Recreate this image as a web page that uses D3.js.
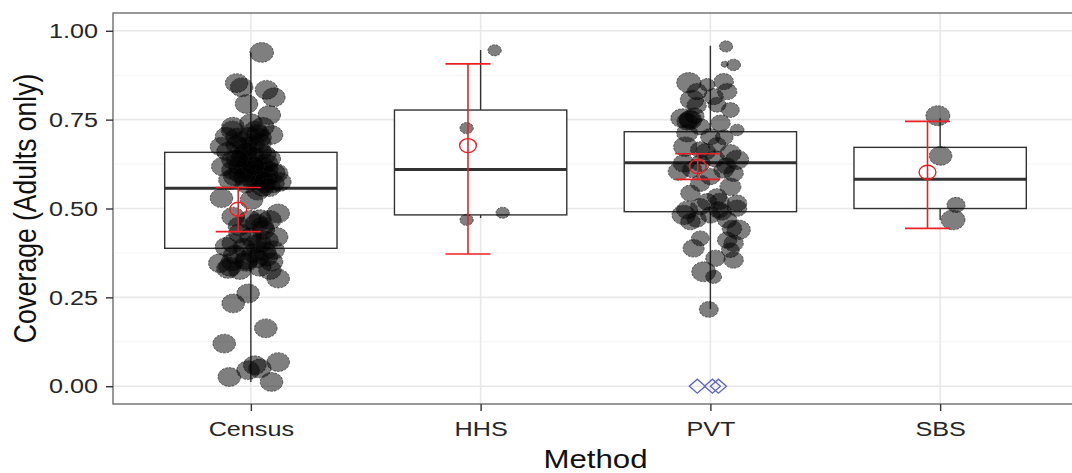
<!DOCTYPE html>
<html>
<head>
<meta charset="utf-8">
<script src="https://cdn.jsdelivr.net/npm/d3@7"></script>
<style>
  body { margin: 0; background: #fff; }
  svg { display: block; font-family: "Liberation Sans", Arial, sans-serif; }
</style>
</head>
<body>
<svg width="1072" height="473"></svg>
<script>
// categories
const methods = ['Census', 'HHS', 'PVT', 'SBS'];

// boxplot summary per method
const boxLower = [0.012, 0.473, 0.217, 0.468];
const boxQ1 = [0.388, 0.482, 0.491, 0.5];
const boxMedian = [0.557, 0.61, 0.629, 0.582];
const boxQ3 = [0.658, 0.777, 0.716, 0.672];
const boxUpper = [0.939, 0.946, 0.958, 0.754];

// mean and interval per method
const meanCoverage = [0.498, 0.677, 0.618, 0.602];
const ciLow = [0.435, 0.372, 0.582, 0.444];
const ciHigh = [0.559, 0.907, 0.654, 0.745];

// jittered points: [jitter (category units), coverage, weight]
const censusPoints = [
  [0.047, 0.939, 4.4], [-0.062, 0.853, 4], [-0.04, 0.841, 4], [0.068, 0.834, 4],
  [0.1, 0.813, 4], [-0.019, 0.794, 4], [0.08, 0.763, 4], [-0.078, 0.73, 4],
  [0.052, 0.73, 4], [-0.106, 0.702, 4], [-0.004, 0.702, 4], [0.09, 0.707, 4],
  [-0.128, 0.674, 4], [-0.026, 0.674, 4], [0.039, 0.684, 4], [-0.122, 0.618, 4],
  [-0.078, 0.637, 4], [0.009, 0.646, 4], [0.068, 0.627, 4], [0.112, 0.599, 4],
  [-0.048, 0.599, 4], [0.009, 0.58, 4], [0.096, 0.571, 4], [-0.091, 0.58, 4],
  [0.052, 0.561, 4], [-0.019, 0.618, 4], [0.039, 0.608, 4], [-0.078, 0.608, 4],
  [0.126, 0.575, 4], [-0.128, 0.529, 4], [0.003, 0.524, 4], [0.119, 0.486, 4],
  [0.083, 0.468, 4], [-0.077, 0.477, 4], [-0.004, 0.468, 4], [0.054, 0.44, 4],
  [0.025, 0.458, 4], [-0.048, 0.43, 4], [-0.106, 0.392, 4], [0.112, 0.42, 4],
  [-0.077, 0.402, 4], [0.039, 0.402, 4], [0.097, 0.383, 4], [0.01, 0.374, 4],
  [0.068, 0.364, 4], [-0.135, 0.346, 4], [-0.091, 0.336, 4], [-0.019, 0.355, 4],
  [-0.048, 0.327, 4], [0.039, 0.336, 4], [0.083, 0.327, 4], [0.119, 0.303, 4],
  [-0.012, 0.261, 4], [-0.077, 0.233, 4], [0.065, 0.163, 4], [-0.116, 0.12, 4],
  [0.119, 0.068, 4], [0.017, 0.059, 4], [-0.012, 0.045, 4], [0.039, 0.05, 4],
  [-0.094, 0.026, 4], [0.09, 0.012, 4],
  [-0.06, 0.7, 4], [0.02, 0.72, 4], [-0.03, 0.65, 4], [0.04, 0.66, 4],
  [-0.05, 0.62, 4], [0.0, 0.6, 4], [0.07, 0.59, 4], [-0.02, 0.57, 4],
  [0.03, 0.55, 4], [0.08, 0.64, 4], [-0.1, 0.66, 4], [0.01, 0.68, 4],
  [-0.07, 0.59, 4], [0.05, 0.62, 4], [0.1, 0.6, 4], [-0.03, 0.61, 4],
  [0.06, 0.57, 4], [-0.04, 0.69, 4], [0.03, 0.71, 4],
  [-0.07, 0.37, 4], [0.02, 0.4, 4], [0.06, 0.38, 4], [-0.02, 0.35, 4],
  [-0.1, 0.33, 4], [0.05, 0.45, 4], [-0.05, 0.45, 4], [0.09, 0.35, 4],
  [-0.01, 0.63, 4], [0.03, 0.6, 4], [-0.04, 0.64, 4], [0.06, 0.65, 4],
  [0.02, 0.58, 4], [-0.06, 0.68, 4], [0.07, 0.61, 4], [-0.02, 0.66, 4],
  [0.04, 0.7, 4], [-0.08, 0.72, 4], [0.0, 0.74, 4], [0.05, 0.58, 4],
  [0.08, 0.56, 4], [-0.03, 0.59, 4], [0.01, 0.62, 4], [-0.06, 0.64, 4],
  [-0.03, 0.39, 4], [0.03, 0.36, 4], [0.07, 0.41, 4], [-0.08, 0.35, 4],
  [0.0, 0.42, 4], [0.04, 0.47, 4]
];
const hhsPoints = [
  [0.061, 0.945, 1.4], [-0.061, 0.726, 1.4], [-0.061, 0.468, 1.4], [0.096, 0.488, 1.4]
];
const pvtPoints = [
  [0.068, 0.956, 1.4], [0.101, 0.904, 1.5], [0.062, 0.906, 0.4], [-0.094, 0.854, 4.6],
  [0.058, 0.857, 3], [-0.014, 0.848, 1.8], [-0.058, 0.829, 3], [0.073, 0.829, 3],
  [-0.08, 0.806, 4.3], [0.014, 0.815, 3], [0.029, 0.792, 2.5], [0.087, 0.777, 2.5],
  [-0.123, 0.754, 4], [-0.087, 0.749, 4], [-0.044, 0.73, 3], [0.044, 0.74, 3],
  [0.116, 0.721, 1.5], [-0.101, 0.712, 3.5], [0.0, 0.702, 3], [0.029, 0.679, 2.5],
  [-0.109, 0.674, 4.3], [-0.044, 0.665, 3], [0.087, 0.655, 3.5], [0.116, 0.637, 4.2],
  [-0.116, 0.627, 3.5], [-0.138, 0.604, 3.5], [-0.044, 0.627, 3], [0.058, 0.608, 3],
  [0.0, 0.59, 3], [0.101, 0.599, 3], [-0.044, 0.571, 3], [0.087, 0.561, 3.5],
  [-0.087, 0.543, 3], [0.029, 0.533, 3], [-0.014, 0.519, 3], [0.116, 0.515, 3],
  [-0.101, 0.496, 3.5], [-0.044, 0.505, 3], [0.036, 0.496, 3], [0.116, 0.501, 3],
  [-0.116, 0.482, 4.3], [0.0, 0.482, 3], [0.073, 0.468, 3], [-0.087, 0.463, 3],
  [0.094, 0.444, 3], [0.123, 0.44, 4.3], [0.073, 0.411, 3], [-0.044, 0.416, 2.5],
  [0.101, 0.402, 3], [-0.073, 0.388, 3.5], [0.087, 0.383, 2.5], [0.022, 0.36, 3],
  [0.101, 0.355, 3], [-0.029, 0.322, 4.5], [0.014, 0.308, 2], [-0.007, 0.216, 2.8],
  [-0.09, 0.75, 3.5], [-0.07, 0.76, 3], [0.02, 0.64, 3], [-0.02, 0.66, 3],
  [0.06, 0.7, 2.5], [-0.06, 0.79, 3], [0.04, 0.52, 3], [-0.06, 0.47, 3],
  [-0.1, 0.745, 3.5], [0.07, 0.62, 3], [-0.08, 0.61, 3], [0.05, 0.49, 3]
];
const sbsPoints = [
  [-0.01, 0.761, 4.5], [0.002, 0.648, 4], [0.069, 0.51, 2.6], [0.056, 0.468, 4.5]
];
const pointsByMethod = [censusPoints, hhsPoints, pvtPoints, sbsPoints];

// zero-coverage PVT entries
const zeroMethod = ['PVT', 'PVT', 'PVT'];
const zeroJitter = [-0.057, 0.009, 0.035];
const zeroValue = [0, 0, 0];

const yTicks = [0, 0.25, 0.5, 0.75, 1];
const yMinor = [0.125, 0.375, 0.625, 0.875];

const svg = d3.select('svg');
const stretch = 1.2; // text/marks are wider than tall in the picture

const margin = { left: 113, top: 13, right: -6, bottom: 69 };
const width = 1072;
const height = 473;

const x = d3.scalePoint()
  .domain(methods)
  .range([margin.left, width - margin.right])
  .padding(0.6);
const step = x.step();

const y = d3.scaleLinear()
  .domain([-0.05, 1.05])
  .range([height - margin.bottom, margin.top]);

const r = d3.scaleSqrt().domain([0, 5]).range([0, 10.5]);

const plotL = margin.left;
const plotR = width - margin.right;
const plotT = margin.top;
const plotB = height - margin.bottom;

// grid
const grid = svg.append('g');
grid.selectAll('.minor')
  .data(yMinor)
  .enter()
  .append('line')
  .attr('x1', plotL).attr('x2', plotR)
  .attr('y1', (d) => y(d)).attr('y2', (d) => y(d))
  .attr('stroke', '#f3f3f3')
  .attr('stroke-width', 1);
grid.selectAll('.major')
  .data(yTicks)
  .enter()
  .append('line')
  .attr('x1', plotL).attr('x2', plotR)
  .attr('y1', (d) => y(d)).attr('y2', (d) => y(d))
  .attr('stroke', '#e8e8e8')
  .attr('stroke-width', 1.6);
grid.selectAll('.vmajor')
  .data(methods)
  .enter()
  .append('line')
  .attr('x1', (d) => x(d)).attr('x2', (d) => x(d))
  .attr('y1', plotT).attr('y2', plotB)
  .attr('stroke', '#e8e8e8')
  .attr('stroke-width', 1.6);

// boxplots
const boxHalf = step * 0.375;
const boxes = svg.append('g')
  .selectAll('g')
  .data(methods)
  .enter()
  .append('g');

boxes.append('line')
  .attr('x1', (d) => x(d)).attr('x2', (d) => x(d))
  .attr('y1', (d, i) => y(boxUpper[i]))
  .attr('y2', (d, i) => y(boxQ3[i]))
  .attr('stroke', '#333').attr('stroke-width', 1.4);
boxes.append('line')
  .attr('x1', (d) => x(d)).attr('x2', (d) => x(d))
  .attr('y1', (d, i) => y(boxQ1[i]))
  .attr('y2', (d, i) => y(boxLower[i]))
  .attr('stroke', '#333').attr('stroke-width', 1.4);
boxes.append('rect')
  .attr('x', (d) => x(d) - boxHalf)
  .attr('width', boxHalf * 2)
  .attr('y', (d, i) => y(boxQ3[i]))
  .attr('height', (d, i) => y(boxQ1[i]) - y(boxQ3[i]))
  .attr('fill', '#fff')
  .attr('stroke', '#333')
  .attr('stroke-width', 1.4);
boxes.append('line')
  .attr('x1', (d) => x(d) - boxHalf).attr('x2', (d) => x(d) + boxHalf)
  .attr('y1', (d, i) => y(boxMedian[i]))
  .attr('y2', (d, i) => y(boxMedian[i]))
  .attr('stroke', '#333').attr('stroke-width', 3);

// jittered points
const pointRows = [];
pointsByMethod.forEach((list, i) => {
  list.forEach((p) => {
    pointRows.push({ method: methods[i], jitter: p[0], value: p[1], weight: p[2] });
  });
});

svg.append('g')
  .selectAll('ellipse')
  .data(pointRows)
  .enter()
  .append('ellipse')
  .attr('cx', (d) => x(d.method) + d.jitter * step)
  .attr('cy', (d) => y(d.value))
  .attr('rx', (d) => r(d.weight) * stretch)
  .attr('ry', (d) => r(d.weight))
  .attr('fill', '#000')
  .attr('fill-opacity', 0.5)
  .attr('stroke', '#1a1a1a')
  .attr('stroke-opacity', 0.6)
  .attr('stroke-width', 1)
  .attr('stroke-dasharray', '2.5,1.2');

// mean with interval
const dodge = -0.055 * step;
const capHalf = 0.098 * step;
const red = '#ec2024';
const means = svg.append('g')
  .selectAll('g')
  .data(methods)
  .enter()
  .append('g');

means.append('line')
  .attr('x1', (d) => x(d) + dodge).attr('x2', (d) => x(d) + dodge)
  .attr('y1', (d, i) => y(ciHigh[i]))
  .attr('y2', (d, i) => y(ciLow[i]))
  .attr('stroke', red).attr('stroke-width', 1.6);
means.append('line')
  .attr('x1', (d) => x(d) + dodge - capHalf).attr('x2', (d) => x(d) + dodge + capHalf)
  .attr('y1', (d, i) => y(ciHigh[i]))
  .attr('y2', (d, i) => y(ciHigh[i]))
  .attr('stroke', red).attr('stroke-width', 1.6);
means.append('line')
  .attr('x1', (d) => x(d) + dodge - capHalf).attr('x2', (d) => x(d) + dodge + capHalf)
  .attr('y1', (d, i) => y(ciLow[i]))
  .attr('y2', (d, i) => y(ciLow[i]))
  .attr('stroke', red).attr('stroke-width', 1.6);
means.append('ellipse')
  .attr('cx', (d) => x(d) + dodge)
  .attr('cy', (d, i) => y(meanCoverage[i]))
  .attr('rx', 8.4)
  .attr('ry', 7)
  .attr('fill', 'none')
  .attr('stroke', red)
  .attr('stroke-width', 1.4);

// zero-coverage diamonds
const diamond = (cx, cy, hw, hh) =>
  `M${cx - hw},${cy}L${cx},${cy - hh}L${cx + hw},${cy}L${cx},${cy + hh}Z`;
svg.append('g')
  .selectAll('path')
  .data(zeroValue)
  .enter()
  .append('path')
  .attr('d', (d, i) => diamond(x(zeroMethod[i]) + zeroJitter[i] * step, y(d), 8, 7))
  .attr('fill', 'none')
  .attr('stroke', '#5d62c9')
  .attr('stroke-width', 1.3);

// panel border
svg.append('rect')
  .attr('x', plotL).attr('y', plotT)
  .attr('width', plotR - plotL).attr('height', plotB - plotT)
  .attr('fill', 'none')
  .attr('stroke', '#6e6e6e')
  .attr('stroke-width', 1.4);

// axes
const yAxis = svg.append('g')
  .attr('transform', `translate(${plotL},0)`)
  .call(d3.axisLeft(y).tickValues(yTicks).tickFormat(d3.format('.2f')).tickSize(7).tickPadding(5.5));
const xAxis = svg.append('g')
  .attr('transform', `translate(0,${plotB})`)
  .call(d3.axisBottom(x).tickSize(7).tickPadding(10));

[yAxis, xAxis].forEach((a) => {
  a.select('.domain').remove();
  a.selectAll('.tick line').attr('stroke', '#333').attr('stroke-width', 1.4);
  a.selectAll('.tick text')
    .attr('fill', '#262626')
    .attr('transform', `scale(${stretch},1)`)
    .style('font-size', '21px')
    .style('font-family', '"Liberation Sans", Arial, sans-serif');
});

// axis titles
svg.append('text')
  .attr('transform', `translate(${(plotL + plotR) / 2},468) scale(${stretch},1)`)
  .attr('text-anchor', 'middle')
  .style('font-size', '26px')
  .attr('fill', '#111')
  .text('Method');
svg.append('text')
  .attr('transform', `translate(36,${(plotT + plotB) / 2}) scale(${stretch},1) rotate(-90)`)
  .attr('text-anchor', 'middle')
  .style('font-size', '26.5px')
  .attr('fill', '#111')
  .text('Coverage (Adults only)');
</script>
</body>
</html>
